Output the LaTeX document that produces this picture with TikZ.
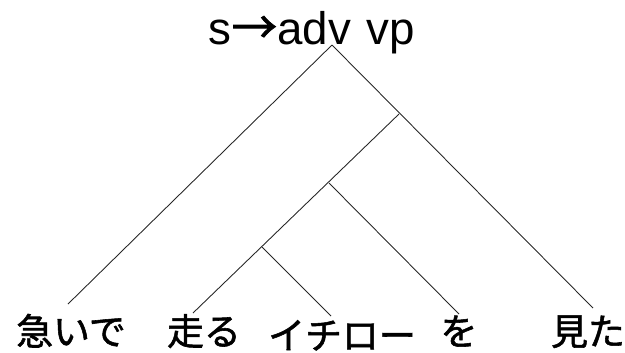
\documentclass[tikz,border=0pt]{standalone}
\usepackage{fontspec}
\setmainfont{Noto Sans CJK JP}[RawFeature={embolden=1.5}]
\newfontfamily\latinfont{Liberation Sans}
\tikzset{
  word/.style={anchor=base,inner sep=0pt,font=\fontsize{21}{21}\selectfont},
  rule/.style={anchor=base,inner sep=0pt,font=\fontsize{26}{26}\selectfont\latinfont},
  branch/.style={line width=0.5pt,black!85}
}
\begin{document}
\begin{tikzpicture}[x=0.2mm,y=-0.2mm]
    \useasboundingbox (0,0) rectangle (625,352);
    \node[rule] (title) at (312,44) {s{\rmfamily→}adv\hspace{0.35em}vp};
    % inner points of the tree
    \coordinate (s) at (332,45);
    \coordinate (vp) at (399,114);
    \coordinate (np) at (329,183);
    \coordinate (rel) at (262,247);
    % ends of the branches
    \coordinate (e1) at (68,304);
    \coordinate (e2) at (193,313);
    \coordinate (e3) at (331,316);
    \coordinate (e4) at (459,314);
    \coordinate (e5) at (593,308);
    \node[word] (isoide) at (71,345) {急いで};
    \node[word] (hashiru) at (204,345) {走る};
    \node[word] (ichiro) at (342,349) {イチロー};
    \node[word] (wo) at (459,345) {を};
    \node[word] (mita) at (588,345) {見た};
    \draw[branch] (s)--(e1);
    \draw[branch] (s)--(e5);
    \draw[branch] (vp)--(e2);
    \draw[branch] (np)--(e4);
    \draw[branch] (rel)--(e3);
\end{tikzpicture}
\end{document}
